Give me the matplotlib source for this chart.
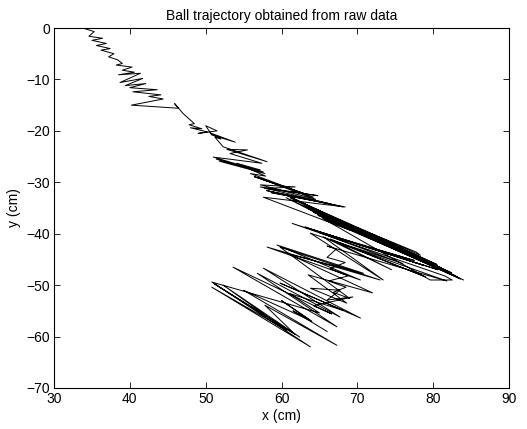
import matplotlib
matplotlib.use("Agg")
import matplotlib.pyplot as plt

# Ball positions (cm), in drawing order.
# --- start: small zig-zags from the launch point down to about y = -20
x_top = [
    34.0, 35.3, 34.6, 36.4, 35.0, 36.9, 35.6, 37.4, 36.2, 37.9,
    37.2, 38.4, 39.0, 38.2, 40.3, 39.0, 40.6, 38.5, 41.4, 38.7,
    41.7, 39.4, 42.1, 40.0, 43.6, 40.4, 44.1, 42.5, 44.4, 40.2,
    46.4, 45.9, 47.0, 48.5, 47.8, 49.5, 48.0, 50.2, 49.0, 51.5,
    50.0, 50.8, 53.9, 50.6, 52.0, 51.2,
]
y_top = [
    -0.1, -0.7, -1.6, -2.0, -2.4, -3.0, -3.4, -4.0, -4.3, -5.0,
    -5.6, -6.2, -6.9, -7.2, -7.6, -8.2, -8.6, -9.1, -8.8, -10.6,
    -9.8, -11.2, -10.8, -11.6, -12.0, -12.4, -13.0, -13.3, -13.8, -15.0,
    -15.6, -14.7, -16.6, -18.6, -18.8, -19.6, -19.4, -20.2, -20.5, -20.0,
    -19.0, -20.8, -22.2, -20.4, -21.6, -21.2,
]

# --- middle: bundles of near-parallel strokes between y = -22 and -40
x_mid = [
    52.3, 58.1, 52.8, 55.5, 53.2, 57.4, 51.0, 57.6, 51.4, 57.8,
    51.8, 57.2, 54.1, 57.9, 55.9, 64.2, 56.4, 63.6, 56.9, 64.5,
    57.2, 61.8, 57.8, 64.8, 57.2, 68.1, 58.0, 66.5, 58.6, 68.4,
    57.6, 69.0,
]
y_mid = [
    -23.1, -26.0, -23.6, -23.7, -24.4, -26.3, -25.1, -28.0, -25.5, -28.3,
    -25.9, -27.6, -26.3, -28.8, -28.3, -32.9, -28.9, -32.5, -29.1, -33.3,
    -30.5, -30.9, -31.2, -32.6, -30.9, -34.8, -31.6, -34.2, -32.0, -34.8,
    -32.9, -39.3,
]

# --- dense band of long strokes out to the far right end (x ~ 84)
x_band = [
    60.6, 84.0, 60.8, 83.2, 61.2, 82.4, 62.0, 80.5, 62.6, 78.3,
    77.8, 63.0, 81.0, 63.6, 82.8, 64.2, 83.6, 64.8, 82.0, 65.4,
    79.6, 82.5, 81.5, 61.4, 80.6, 63.1, 78.8, 64.0, 77.5, 65.0,
    76.0, 63.8, 73.4, 65.5, 74.5, 66.4, 79.0, 67.2, 81.8, 66.0,
]
y_band = [
    -33.0, -49.0, -32.6, -48.4, -33.1, -47.6, -33.5, -46.0, -33.9, -44.2,
    -43.6, -34.6, -46.6, -35.2, -48.1, -35.8, -48.8, -36.4, -47.6, -37.0,
    -49.0, -49.0, -48.2, -38.0, -47.0, -38.7, -46.2, -39.2, -45.2, -39.8,
    -45.8, -39.9, -49.0, -40.6, -47.0, -41.0, -48.4, -41.6, -49.2, -42.4,
]

# --- lower cluster: zig-zag column near x = 67 and the long strokes to y = -62
x_low = [
    67.2, 66.0, 68.4, 66.4, 68.8, 66.2, 68.5, 66.8, 69.0, 59.8,
    73.0, 58.1, 70.4, 59.4, 70.8, 61.0, 72.0, 63.5, 68.6, 63.8,
    67.7, 66.0, 69.4, 64.2, 66.6, 53.6, 67.3, 56.8, 67.7, 57.6,
    70.4, 59.8, 68.1, 61.0, 65.0, 50.8, 63.8, 50.8, 60.7, 52.3,
    62.4, 51.2, 61.8, 57.8, 67.3, 55.0, 64.0, 60.0, 63.5, 61.5,
    66.0,
]
y_low = [
    -43.0, -44.6, -45.6, -46.8, -48.2, -49.2, -50.4, -51.4, -52.6, -42.6,
    -49.0, -42.6, -49.0, -42.2, -47.7, -44.0, -51.5, -48.0, -53.5, -50.6,
    -51.0, -52.9, -52.3, -54.0, -55.6, -46.5, -58.1, -47.7, -56.2, -46.7,
    -56.4, -49.6, -54.9, -51.6, -55.4, -49.4, -62.0, -50.4, -58.8, -50.0,
    -60.1, -49.8, -59.6, -53.9, -61.7, -51.0, -57.0, -53.0, -56.6, -55.0,
    -59.0,
]

X_TICKS = [30, 40, 50, 60, 70, 80, 90]
Y_TICKS = [-70, -60, -50, -40, -30, -20, -10, 0]

x_cm = x_top + x_mid + x_band + x_low
y_cm = y_top + y_mid + y_band + y_low

plt.rcParams["font.family"] = ["Liberation Sans", "DejaVu Sans"]
plt.rcParams["font.size"] = 10

fig = plt.figure(figsize=(5.27, 4.29), dpi=100)
ax = fig.add_axes([0.1025, 0.0956, 0.8635, 0.8391])

ax.plot(x_cm, y_cm, color="black", linewidth=0.7)

ax.set_xlim(30, 90)
ax.set_ylim(-70, 0)
ax.set_xticks(X_TICKS)
ax.set_yticks(Y_TICKS)
ax.tick_params(direction="in", top=True, right=True, length=4, width=0.6, pad=3)
for spine in ax.spines.values():
    spine.set_linewidth(0.8)

ax.set_xlabel("x (cm)", labelpad=2)
ax.set_ylabel("y (cm)", labelpad=4)
ax.set_title("Ball trajectory obtained from raw data", fontsize=10, pad=6)

fig.savefig("out.png", dpi=100)
